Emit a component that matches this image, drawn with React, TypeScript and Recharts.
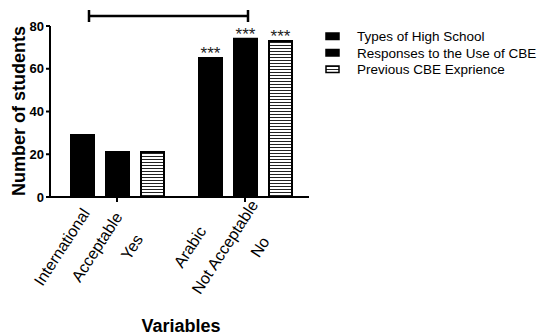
import React from 'react';
import { BarChart, Bar, XAxis, YAxis, LabelList, Customized } from 'recharts';

const groups = ['School', 'CBE'];
const seriesNames = ['Types of High School', 'Responses to the Use of CBE', 'Previous CBE Exprience'];
const typesLabels = ['International', 'Arabic'];
const responseLabels = ['Acceptable', 'Not Acceptable'];
const experienceLabels = ['Yes', 'No'];
const typesValues = [29, 65];
const responseValues = [21, 74];
const experienceValues = [21, 73];
const significance = ['', '***'];
const yTicks = [0, 20, 40, 60, 80];

const data = groups.map((g, i) => ({
  group: g,
  types: typesValues[i],
  responses: responseValues[i],
  experience: experienceValues[i],
  typesLabel: typesLabels[i],
  responsesLabel: responseLabels[i],
  experienceLabel: experienceLabels[i],
  stars: significance[i],
}));

const FONT = 'Arial, "Liberation Sans", sans-serif';

const renderCatLabel = (props: any) => {
  const { x, y, width, height, value } = props;
  const cx = x + width / 2 - 16;
  const cy = y + height + 53;
  return (
    <text
      x={cx}
      y={cy}
      transform={`rotate(-57, ${cx}, ${cy})`}
      textAnchor="middle"
      fontFamily={FONT}
      fontSize={16}
      fill="#000"
    >
      {value}
    </text>
  );
};

const renderStars = (props: any) => {
  const { x, y, width, value } = props;
  if (!value) return null;
  return (
    <text x={x + width / 2} y={y + 1} textAnchor="middle" fontFamily={FONT} fontSize={17} fill="#222">
      {value}
    </text>
  );
};

const Extras = () => (
  <g fontFamily={FONT}>
    {/* significance bracket */}
    <path d="M89,16 H248 M89,10 V22 M248,10 V22" stroke="#000" strokeWidth={2.5} fill="none" />
    {/* axis titles */}
    <text transform="translate(25, 111) rotate(-90)" textAnchor="middle" fontSize={18} fontWeight="bold" fill="#000">
      Number of students
    </text>
    <text x={181} y={332} textAnchor="middle" fontSize={18} fontWeight="bold" fill="#000">
      Variables
    </text>
    {/* legend */}
    {seriesNames.map((name, i) => (
      <g key={name}>
        <rect
          x={326}
          y={33 + i * 16.5}
          width={13}
          height={6.5}
          fill={i === 2 ? 'url(#hatch)' : '#000'}
          stroke="#000"
          strokeWidth={1.5}
        />
        <text x={357} y={41 + i * 16.5} fontSize={13.5} fill="#000">
          {name}
        </text>
      </g>
    ))}
  </g>
);

export default function App() {
  return (
    <div style={{ position: 'absolute', left: 0, top: 0 }}>
      <BarChart
        width={541}
        height={335}
        data={data}
        margin={{ top: 26, right: 232, bottom: 108, left: 0 }}
        barSize={23}
        barGap={12}
      >
        <defs>
          <pattern id="hatch" patternUnits="userSpaceOnUse" width={4} height={3}>
            <rect x={0} y={0} width={4} height={3} fill="#fff" />
            <rect x={0} y={0} width={4} height={1} fill="#222" />
          </pattern>
        </defs>
        <XAxis
          dataKey="group"
          height={30}
          padding={{ left: 3, right: 0 }}
          tickFormatter={() => ''}
          tickSize={5}
          axisLine={{ stroke: '#000', strokeWidth: 2 }}
          tickLine={{ stroke: '#000', strokeWidth: 2 }}
        />
        <YAxis
          width={50}
          domain={[0, 80]}
          ticks={yTicks}
          tickSize={4}
          tickMargin={2}
          axisLine={{ stroke: '#000', strokeWidth: 2 }}
          tickLine={{ stroke: '#000', strokeWidth: 2 }}
          tick={{ fill: '#000', fontSize: 13, fontWeight: 'bold', fontFamily: FONT }}
        />
        <Bar dataKey="types" fill="#000" stroke="#000" strokeWidth={2} isAnimationActive={false}>
          <LabelList dataKey="typesLabel" content={renderCatLabel} />
          <LabelList dataKey="stars" content={renderStars} />
        </Bar>
        <Bar dataKey="responses" fill="#000" stroke="#000" strokeWidth={2} isAnimationActive={false}>
          <LabelList dataKey="responsesLabel" content={renderCatLabel} />
          <LabelList dataKey="stars" content={renderStars} />
        </Bar>
        <Bar dataKey="experience" fill="url(#hatch)" stroke="#000" strokeWidth={2} isAnimationActive={false}>
          <LabelList dataKey="experienceLabel" content={renderCatLabel} />
          <LabelList dataKey="stars" content={renderStars} />
        </Bar>
        <Customized component={<Extras />} />
      </BarChart>
    </div>
  );
}
